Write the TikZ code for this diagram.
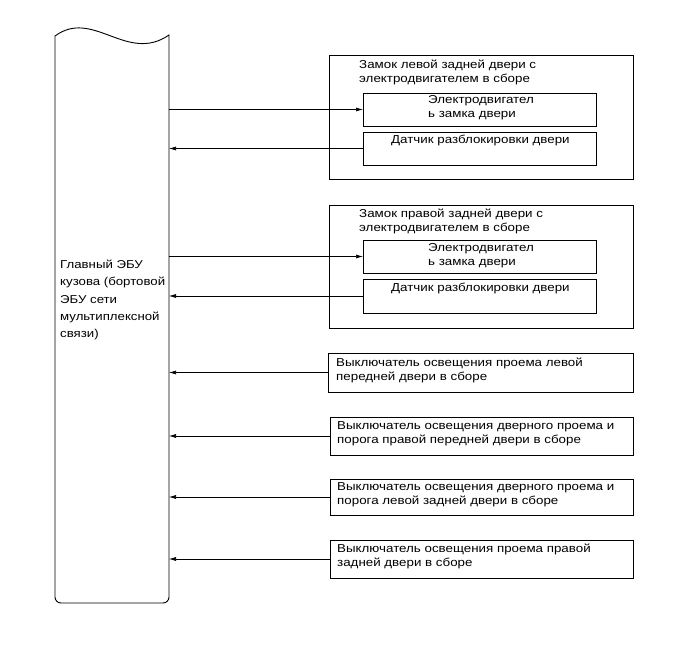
\documentclass[tikz,border=0pt]{standalone}
\usepackage{fontspec}
\setmainfont[FakeStretch=1.16]{Liberation Sans}
\usetikzlibrary{arrows.meta}
\begin{document}
\begin{tikzpicture}[x=1pt,y=-1pt,
  box/.style={draw, line width=0.9pt, inner sep=0pt, outer sep=0pt, anchor=north west},
  txt/.style={anchor=west, align=left, inner sep=0pt, font=\fontsize{11.5}{14}\selectfont},
  conn/.style={line width=0.6pt, -{Latex[length=7pt,width=4pt]}}]
\useasboundingbox (0,0) rectangle (689,663);
% main ECU
\draw[line width=0.9pt] (55,300) -- (55,36) .. controls (93,8) and (127,64) .. (169,35)
  [rounded corners=6pt] -- (169,603) -- (55,603) -- (55,300);
\node[inner sep=0pt, outer sep=0pt, minimum width=114pt, minimum height=567pt, anchor=north west] (ecu) at (55,36) {};
\node[txt, font=\fontsize{11.4}{17.2}\selectfont] (ecut) at (60,300) {Главный ЭБУ\\кузова (бортовой\\ЭБУ сети\\мультиплексной\\связи)};
% box 1
\node[box, minimum width=304pt, minimum height=124pt] (b1) at (329,55) {};
\node[txt] (b1t) at (359,72) {Замок левой задней двери с\\электродвигателем в сборе};
\node[box, minimum width=233pt, minimum height=33pt] (m1) at (363,93) {};
\node[txt] (m1t) at (428,108) {Электродвигател\\ь замка двери};
\node[box, minimum width=233pt, minimum height=33pt] (s1) at (363,132) {};
\node[txt] (s1t) at (391,140) {Датчик разблокировки двери};
% box 2
\node[box, minimum width=304pt, minimum height=123pt] (b2) at (329,205) {};
\node[txt] (b2t) at (359,221.5) {Замок правой задней двери с\\электродвигателем в сборе};
\node[box, minimum width=233pt, minimum height=33pt] (m2) at (363,240) {};
\node[txt] (m2t) at (428,256) {Электродвигател\\ь замка двери};
\node[box, minimum width=233pt, minimum height=34pt] (s2) at (363,279) {};
\node[txt] (s2t) at (391,288) {Датчик разблокировки двери};
% switches
\node[box, minimum width=305pt, minimum height=39pt] (w1) at (328,353) {};
\node[txt] (w1t) at (336,370) {Выключатель освещения проема левой\\передней двери в сборе};
\node[box, minimum width=303pt, minimum height=38pt] (w2) at (330,417) {};
\node[txt] (w2t) at (337,433.5) {Выключатель освещения дверного проема и\\порога правой передней двери в сборе};
\node[box, minimum width=303pt, minimum height=36pt] (w3) at (330,479) {};
\node[txt] (w3t) at (337,495) {Выключатель освещения дверного проема и\\порога левой задней двери в сборе};
\node[box, minimum width=303pt, minimum height=38pt] (w4) at (330,540) {};
\node[txt] (w4t) at (337,556) {Выключатель освещения проема правой\\задней двери в сборе};
% connectors
\draw[conn] (ecu.east |- m1.west) -- (m1.west);
\draw[conn] (s1.west) -- (ecu.east |- s1.west);
\draw[conn] (ecu.east |- m2.west) -- (m2.west);
\draw[conn] (s2.west) -- (ecu.east |- s2.west);
\draw[conn] (w1.west) -- (ecu.east |- w1.west);
\draw[conn] (w2.west) -- (ecu.east |- w2.west);
\draw[conn] (w3.west) -- (ecu.east |- w3.west);
\draw[conn] (w4.west) -- (ecu.east |- w4.west);
\end{tikzpicture}
\end{document}
